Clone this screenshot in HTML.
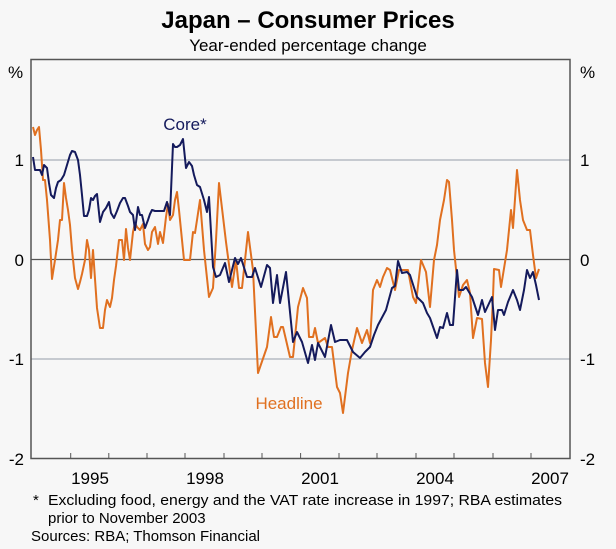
<!DOCTYPE html>
<html><head><meta charset="utf-8"><style>
body{margin:0;background:#f7f7f7;}
svg{display:block;font-family:"Liberation Sans",sans-serif;}
</style></head><body>
<svg width="616" height="549" viewBox="0 0 616 549">
<rect width="616" height="549" fill="#f7f7f7"/>
<text x="308" y="28" text-anchor="middle" font-size="24" font-weight="bold" fill="#000">Japan – Consumer Prices</text>
<text x="308" y="51" text-anchor="middle" font-size="17" fill="#000">Year-ended percentage change</text>
<line x1="31" y1="160" x2="570" y2="160" stroke="#a8b0b8" stroke-width="1.2"/>
<line x1="31" y1="359" x2="570" y2="359" stroke="#a8b0b8" stroke-width="1.2"/>
<line x1="31" y1="259.5" x2="570" y2="259.5" stroke="#555" stroke-width="1.2"/>
<g stroke="#555" stroke-width="1">
<line x1="70.7" y1="453" x2="70.7" y2="459"/><line x1="108.8" y1="453" x2="108.8" y2="459"/><line x1="147" y1="453" x2="147" y2="459"/><line x1="185" y1="453" x2="185" y2="459"/><line x1="224" y1="453" x2="224" y2="459"/><line x1="262" y1="453" x2="262" y2="459"/><line x1="300.6" y1="453" x2="300.6" y2="459"/><line x1="339" y1="453" x2="339" y2="459"/><line x1="377" y1="453" x2="377" y2="459"/><line x1="416" y1="453" x2="416" y2="459"/><line x1="454" y1="453" x2="454" y2="459"/><line x1="493" y1="453" x2="493" y2="459"/><line x1="531" y1="453" x2="531" y2="459"/>
</g>
<rect x="31" y="59.5" width="539" height="399" fill="none" stroke="#555" stroke-width="1.5"/>
<polyline fill="none" stroke="#e07020" stroke-width="2" stroke-linejoin="round" points="33,127 35,135 37,130 39,127 41,150 43,180 45,180 47,200 50,240 52,279 55,260 58,240 60,220 62,220 64,183 66,198 68,210 70,225 72,250 75,278 78,289 80,282 82,274 85,260 87,240 89,250 91,278 93,250 95,279 97,308 100,328 103,328 105,310 107,300 110,307 112,298 114,280 116,266 119,240 122,240 124,260 126,229 128,248 130,260 133,232 135,223 137,227 140,230 143,224 145,244 148,250 150,247 152,232 155,227 158,244 160,232 163,243 166,217 168,204 170,220 173,215 175,200 177,192 179,210 182,240 184,260 187,260 190,260 193,232 195,233 197,220 200,200 204,250 209,297 213,288 216,240 219,183 226,242 232,287 236,260 239,288 242,288 248,232 253,270 258,373 267,347 271,317 274,337 277,337 281,327 283,327 290,357 293,357 298,307 303,288 307,298 309,337 313,337 315,328 318,343 325,338 328,347 332,347 337,387 340,393 343,413 348,373 352,350 357,328 362,343 367,330 370,343 373,290 377,280 380,287 383,277 387,268 390,270 395,290 399,270 408,270 413,297 416,303 421,260 426,272 430,307 434,260 437,245 440,220 444,200 447,180 449,182 452,220 454,250 459,297 463,285 467,280 470,293 473,338 477,318 482,319 485,363 488,387 491,340 493,297 494,269 499,270 501,287 507,250 511,210 513,228 517,170 520,200 523,220 527,230 530,230 533,255 536,278 539,269"/>
<polyline fill="none" stroke="#141a5c" stroke-width="2" stroke-linejoin="round" points="33,157 35,170 38,170 40,170 42,175 44,165 47,168 49,183 51,195 54,198 56,188 58,182 61,180 64,175 67,165 70,155 72,151 75,152 78,160 80,175 82,195 84,216 87,216 89,210 91,198 93,200 95,196 97,194 100,222 103,212 106,208 109,202 111,213 114,218 117,211 120,203 123,198 125,198 128,206 130,212 133,215 135,230 138,207 140,215 142,215 145,228 148,220 150,214 152,210 155,211 158,211 161,211 164,211 167,202 170,215 173,144 175,147 177,147 180,145 183,139 186,168 189,162 192,166 194,175 197,185 200,187 204,200 207,212 209,197 213,267 216,277 220,275 225,263 229,282 235,258 238,264 241,258 247,277 252,277 255,268 261,287 267,265 270,268 273,303 277,275 280,303 286,272 293,342 297,332 302,342 308,363 312,345 315,360 318,343 325,357 331,325 335,342 340,340 347,340 353,352 360,358 365,352 370,347 374,335 378,325 386,310 392,288 395,286 398,261 402,273 407,272 410,275 417,297 423,303 427,313 430,318 437,338 440,327 443,328 447,313 450,325 453,325 457,270 459,290 463,290 466,287 472,297 478,315 482,300 485,312 492,297 495,330 498,310 502,310 504,315 508,302 513,290 517,300 520,310 524,290 527,270 530,278 533,272 536,285 539,300"/>
<text x="185" y="130" text-anchor="middle" font-size="17" fill="#141a5c">Core*</text>
<text x="289" y="409" text-anchor="middle" font-size="17" fill="#e07020">Headline</text>
<g font-size="17" fill="#000">
<text x="8" y="78">%</text><text x="580" y="78">%</text>
<text x="24" y="166" text-anchor="end">1</text><text x="580" y="166">1</text>
<text x="24" y="266" text-anchor="end">0</text><text x="580" y="266">0</text>
<text x="24" y="365" text-anchor="end">-1</text><text x="580" y="365">-1</text>
<text x="24" y="465" text-anchor="end">-2</text><text x="580" y="465">-2</text>
<g text-anchor="middle"><text x="90" y="484">1995</text><text x="205" y="484">1998</text><text x="320" y="484">2001</text><text x="435" y="484">2004</text><text x="550" y="484">2007</text></g>
</g>
<g font-size="15" fill="#000">
<text x="33" y="505">*</text>
<text x="48" y="505" textLength="514" lengthAdjust="spacingAndGlyphs">Excluding food, energy and the VAT rate increase in 1997; RBA estimates</text>
<text x="48" y="523">prior to November 2003</text>
<text x="31" y="541">Sources: RBA; Thomson Financial</text>
</g>
</svg>
</body></html>
